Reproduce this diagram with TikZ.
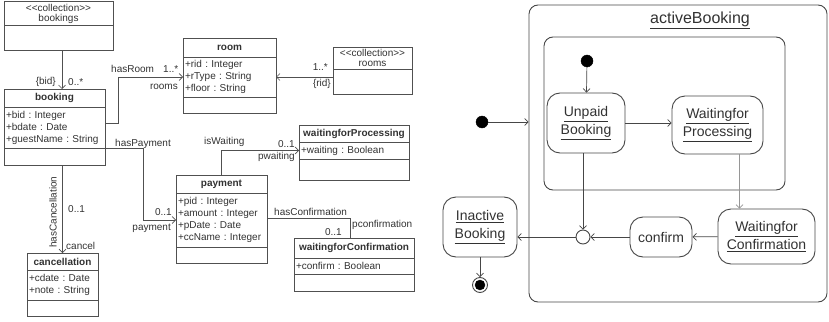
\documentclass[tikz,border=0pt]{standalone}
\usepackage{fontspec}
\setmainfont{Liberation Sans}
\usepackage{tikz}
\usetikzlibrary{arrows.meta,positioning,shapes.geometric}
\definecolor{lineC}{RGB}{80,80,80}
\definecolor{txtC}{RGB}{50,50,50}
\definecolor{stC}{RGB}{70,70,70}
\definecolor{lightC}{RGB}{150,150,150}
\newcommand{\umlsize}{\fontsize{10}{12}\selectfont}
\newcommand{\colsize}{\fontsize{10}{10}\selectfont}
\newcommand{\stsize}{\fontsize{14}{18}\selectfont}
\newcommand{\titlesize}{\fontsize{16}{18}\selectfont}
\newcommand{\stereo}{<\kern0pt<collection>\kern0pt>}
\frenchspacing

\begin{document}
\begin{tikzpicture}[
  x=1pt, y=-1pt,
  font=\umlsize, text=txtC,
  cls/.style={draw=lineC, line width=0.8pt, inner sep=2pt, outer sep=0pt},
  hdr/.style={cls, font=\umlsize\bfseries, minimum width=#1},
  coll/.style={cls, font=\colsize, align=center, minimum width=#1},
  att/.style={cls, align=left, text width=#1},
  ops/.style={cls, minimum width=#1},
  lbl/.style={inner sep=1pt, font=\umlsize},
  assoc/.style={draw=lineC, line width=0.7pt},
  arr/.style={assoc, -{Straight Barb[length=3.5pt,width=7pt]}},
  state/.style={draw=stC, line width=0.9pt, rounded corners=13pt, align=center, font=\stsize, inner sep=2pt},
  dot/.style={circle, fill=black, draw=black, inner sep=0pt, minimum size=12pt}
]
\useasboundingbox (0,0) rectangle (829,321);

% Classes
\node[coll=109, minimum height=23] (bookings) at (58.5,13.5) {\stereo\\bookings};
\node[ops=109, minimum height=25, below=0pt of bookings] (bookingsB) {};

\node[hdr=101, minimum height=18] (booking) at (54.5,98) {booking};
\node[att=97, minimum height=41, below=0pt of booking] (bookingA) {+bid : Integer\\+bdate : Date\\+guestName : String};
\node[ops=101, minimum height=17, below=0pt of bookingA] (bookingO) {};

\node[hdr=93, minimum height=19] (room) at (229.5,47.5) {room};
\node[att=89, minimum height=40, below=0pt of room] (roomA) {+rid : Integer\\+rType : String\\+floor : String};
\node[ops=93, minimum height=16, below=0pt of roomA] (roomO) {};

\node[coll=79, minimum height=22] (rooms) at (372.5,58) {\stereo\\rooms};
\node[ops=79, minimum height=25, below=0pt of rooms] (roomsB) {};

\node[hdr=91, minimum height=18] (payment) at (221.5,184) {payment};
\node[att=87, minimum height=54, below=0pt of payment] (paymentA) {+pid : Integer\\+amount : Integer\\+pDate : Date\\+ccName : Integer};
\node[ops=91, minimum height=16, below=0pt of paymentA] (paymentO) {};

\node[hdr=110, minimum height=17] (procCls) at (354,133.5) {waitingforProcessing};
\node[att=106, minimum height=17, below=0pt of procCls] (procClsA) {+waiting : Boolean};
\node[ops=110, minimum height=21, below=0pt of procClsA] (procClsO) {};

\node[hdr=120, minimum height=20] (confCls) at (354,248) {waitingforConfirmation};
\node[att=116, minimum height=16, below=0pt of confCls] (confClsA) {+confirm : Boolean};
\node[ops=120, minimum height=17, below=0pt of confClsA] (confClsO) {};

\node[hdr=71, minimum height=17] (cancel) at (62.5,261.5) {cancellation};
\node[att=67, minimum height=30, below=0pt of cancel] (cancelA) {+cdate : Date\\+note : String};
\node[ops=71, minimum height=16, below=0pt of cancelA] (cancelO) {};

% Associations
\draw[arr] ([xshift=3.5pt]bookingsB.south) -- ([xshift=3.5pt]bookingsB.south |- booking.north);
\draw[arr] ([yshift=4pt]bookingA.east) -- ++(13,0) |- (roomA.west);
\draw[arr] (roomA.east -| roomsB.west) -- (roomA.east);
\draw[arr] (bookingO.north east) -- ++(38,0) |- (paymentA.west);
\draw[arr] (payment.north) |- (procClsA.west);
\draw[assoc] ([yshift=2pt]paymentA.east) -| ([xshift=-4pt]confCls.north);
\draw[arr] (bookingO.south -| cancel.north) -- (cancel.north);

% Association labels
\node[lbl, anchor=east] (lBid) at (57,82) {\{bid\}};
\node[lbl, anchor=west] (lBookMult) at (67,82) {0..*};
\node[lbl, anchor=west] (lHasRoom) at (110,69) {hasRoom};
\node[lbl, anchor=west] (lRoomMult) at (162,69) {1..*};
\node[lbl, anchor=east] (lRoomsRole) at (179,87) {rooms};
\node[lbl, anchor=east] (lRoomsMult) at (329,67) {1..*};
\node[lbl, anchor=east] (lRid) at (332,84) {\{rid\}};
\node[lbl, anchor=west] (lHasPay) at (114,144) {hasPayment};
\node[lbl, anchor=east] (lPayMult) at (173,212) {0..1};
\node[lbl, anchor=east] (lPayRole) at (172,228) {payment};
\node[lbl, anchor=west] (lIsWait) at (203,142) {isWaiting};
\node[lbl, anchor=east] (lWaitMult) at (296,144) {0..1};
\node[lbl, anchor=east] (lPWait) at (296,157) {pwaiting};
\node[lbl, anchor=west] (lHasConf) at (273,212) {hasConfirmation};
\node[lbl, anchor=east] (lConfMult) at (343,232) {0..1};
\node[lbl, anchor=west] (lPConf) at (351,225) {pconfirmation};
\node[lbl, rotate=90] (lHasCanc) at (53,212) {hasCancellation};
\node[lbl, anchor=west] (lCancMult) at (67,209) {0..1};
\node[lbl, anchor=west] (lCancRole) at (65,246) {cancel};

% State machine
\node[draw=stC, line width=0.9pt, rounded corners=9pt, minimum width=298, minimum height=297] (active) at (678,153.5) {};
\node[font=\titlesize] (activeLbl) at (700,20) {\underline{activeBooking}};
\node[draw=stC, line width=0.9pt, rounded corners=9pt, minimum width=241, minimum height=153] (region) at (664.5,113.5) {};

\node[dot] (sStart) at (482,122) {};
\node[dot] (sInit) at (587,61) {};
\node[state, minimum width=78, minimum height=60] (sUnpaid) at (586,123) {\underline{Unpaid}\\\underline{Booking}};
\node[state, minimum width=91, minimum height=58] (sProc) at (717.5,125) {\underline{Waitingfor}\\\underline{Processing}};
\node[state, minimum width=97, minimum height=55] (sConf) at (766.5,236.5) {\underline{Waitingfor}\\\underline{Confirmation}};
\node[state, minimum width=62, minimum height=40] (sConfirm) at (661,237) {confirm};
\node[circle, draw=stC, line width=0.9pt, fill=white, minimum size=14pt, inner sep=0pt] (sJoin) at (583,237) {};
\node[state, minimum width=74, minimum height=60] (sInactive) at (480,227) {\underline{Inactive}\\\underline{Booking}};
\node[circle, draw=stC, line width=0.9pt, minimum size=15pt, inner sep=0pt] (sEnd) at (480,285) {};
\node[dot, minimum size=10pt] (sEndDot) at (sEnd) {};

% Transitions
\draw[arr, draw=stC] (sStart) -- (sStart -| active.west);
\draw[arr, draw=stC] (sInit) -- (sUnpaid);
\draw[arr, draw=stC] (sUnpaid.east) -- (sUnpaid.east -| sProc.west);
\draw[arr, draw=lightC] ([xshift=22pt]sProc.south) -- ([xshift=22pt]sProc.south |- sConf.north);
\draw[arr, draw=stC] (sConf) -- (sConfirm);
\draw[arr, draw=stC] (sConfirm) -- (sJoin);
\draw[arr, draw=stC] (sUnpaid.south -| sJoin) -- (sJoin);
\draw[arr, draw=stC] (sJoin) -- (sJoin -| sInactive.east);
\draw[arr, draw=stC] (sInactive) -- (sEnd);

\end{tikzpicture}
\end{document}
